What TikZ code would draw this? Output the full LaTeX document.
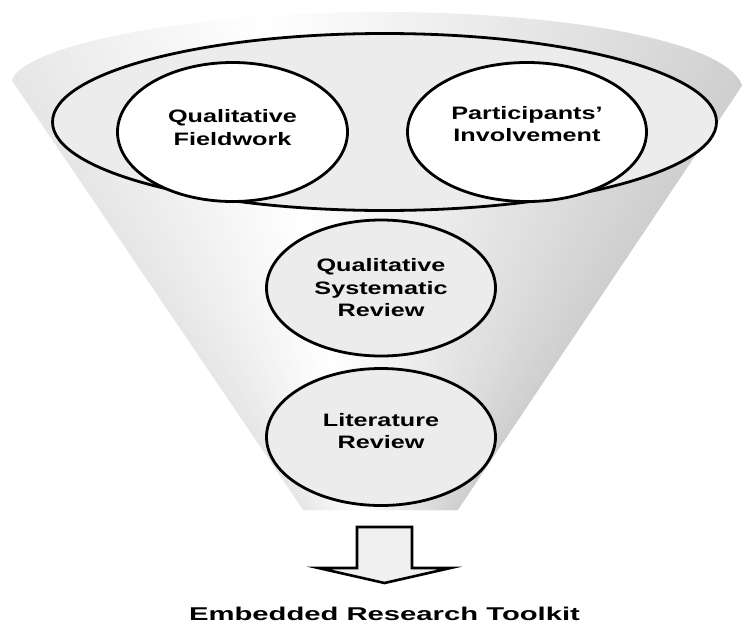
\documentclass[tikz,border=0pt]{standalone}
\usepackage{fontspec}
\setmainfont{Liberation Sans}
\newfontfamily\labelfont[FakeStretch=1.4]{Liberation Sans}
\newfontfamily\captionfont[FakeStretch=1.58]{Liberation Sans}
\usepackage{tikz}
\usetikzlibrary{shapes.geometric,positioning}

\begin{document}
\begin{tikzpicture}[x=1pt,y=-1pt,
 tier/.style={ellipse,draw=black,fill=gray!15,line width=2.8pt,inner sep=0pt},
 topic/.style={ellipse,draw=black,fill=white,line width=2.8pt,inner sep=0pt,align=center,
   font=\labelfont\bfseries\fontsize{18}{22.5}\selectfont},
 review/.style={topic,fill=gray!15},
 blockarrow/.style={draw=black,fill=gray!12,line width=2.6pt,line join=miter},
 caption/.style={font=\captionfont\bfseries\fontsize{18.5}{22}\selectfont,inner sep=0pt}]
\useasboundingbox (0,0) rectangle (743,624);

% funnel body, shaded in thin wedges from the apex
\begin{scope}
\clip (300,510) -- (30,130) .. controls (20,115) and (8,95) .. (12,80)
  .. controls (25,45) and (190,12) .. (381,12)
  .. controls (560,12) and (725,40) .. (742,85)
  .. controls (745,100) and (735,115) .. (723,130) -- (460,510) -- cycle;
\foreach \i in {0,...,89} {
  \pgfmathsetmacro\u{(\i+0.5)/90}
  \pgfmathsetmacro\g{\u<0.36 ? 20*(0.36-\u)/0.36 : 38*(\u-0.36)/0.64}
  \pgfmathsetmacro\xa{-110+10.8444*\i}
  \pgfmathsetmacro\xb{\xa+10.8444}
  \filldraw[gray!\g,line width=0.8pt] (381,624) -- (\xa,-100) -- (\xb,-100) -- cycle;
}
\end{scope}

% top layer with the two field circles
\node[tier,minimum width=664pt,minimum height=177pt] (layer) at (384.5,122) {};
\node[topic,minimum width=230pt,minimum height=139pt,text depth=9pt] (fieldwork) at (232.5,132) {Qualitative\\Fieldwork};
\node[topic,minimum width=239pt,minimum height=139pt,text depth=16pt] (involve) at (527,132) {Participants’\\Involvement};

% reviews down the neck
\node[review,minimum width=229pt,minimum height=136pt] (sysreview) at (381,288) {Qualitative\\Systematic\\Review};
\node[review,minimum width=229pt,minimum height=137pt,text depth=12pt] (litreview) at (381,437) {Literature\\Review};

% outcome
\node[caption,anchor=base] (toolkit) at (384.5,620) {Embedded Research Toolkit};
\coordinate (arrowtop) at (384.5,527);
\draw[blockarrow] (arrowtop) ++(-27.5,0) -- ++(55,0) -- ++(0,41) -- ++(38.5,0)
  -- ++(-66,15) -- ++(-66,-15) -- ++(38.5,0) -- cycle;
\end{tikzpicture}
\end{document}
